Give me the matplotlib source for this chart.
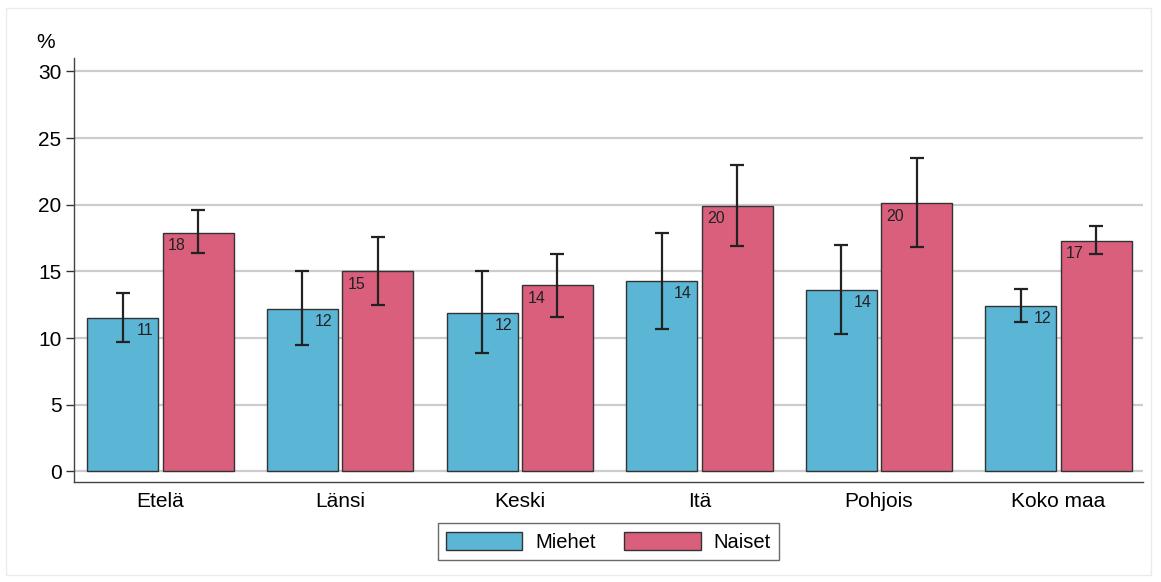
import numpy as np
import matplotlib
matplotlib.use("Agg")
import matplotlib.pyplot as plt
from matplotlib.patches import Rectangle

plt.rcParams['font.family'] = ['Liberation Sans', 'DejaVu Sans']

# ------------------------------------------------------------------ data
regions = ['Etelä', 'Länsi', 'Keski', 'Itä', 'Pohjois', 'Koko maa']
miehet = [11.5, 12.2, 11.9, 14.3, 13.6, 12.4]
miehet_lo = [9.7, 9.5, 8.9, 10.7, 10.3, 11.2]
miehet_hi = [13.4, 15.0, 15.0, 17.85, 16.95, 13.65]
naiset = [17.9, 15.0, 13.95, 19.9, 20.1, 17.3]
naiset_lo = [16.35, 12.5, 11.6, 16.9, 16.8, 16.3]
naiset_hi = [19.6, 17.6, 16.3, 22.95, 23.5, 18.4]
miehet_lbl = ['11', '12', '12', '14', '14', '12']
naiset_lbl = ['18', '15', '14', '20', '20', '17']

COL_M = '#5BB5D4'
COL_N = '#D95F7C'
EDGE = '#333333'

# ------------------------------------------------------------------ figure
fig = plt.figure(figsize=(11.61, 5.82), dpi=100)
# faint outer frame
fig.patches.append(Rectangle((6 / 1161, 1 - 575 / 582), 1145 / 1161, 567 / 582,
                             transform=fig.transFigure, fill=False,
                             edgecolor='#e6edf0', lw=1.0, zorder=0))
ax = fig.add_axes([0.0637, 0.1718, 0.9208, 0.7285])

x = np.arange(len(regions))
w = 0.395
off = 0.21

m = np.array(miehet); n = np.array(naiset)
m_err = [m - np.array(miehet_lo), np.array(miehet_hi) - m]
n_err = [n - np.array(naiset_lo), np.array(naiset_hi) - n]

ax.bar(x - off, m, w, color=COL_M, edgecolor=EDGE, lw=1.0, label='Miehet', zorder=2)
ax.bar(x + off, n, w, color=COL_N, edgecolor=EDGE, lw=1.0, label='Naiset', zorder=2)
ax.errorbar(x - off, m, yerr=m_err, fmt='none', ecolor='#222222', elinewidth=1.6,
            capsize=5, capthick=1.6, zorder=3)
ax.errorbar(x + off, n, yerr=n_err, fmt='none', ecolor='#222222', elinewidth=1.6,
            capsize=5, capthick=1.6, zorder=3)

for xi, v, t in zip(x, m, miehet_lbl):
    ax.text(xi - off + w/2 - 0.028, v - 0.4, t, ha='right', va='top', fontsize=11.5, color='#222222', zorder=4)
for xi, v, t in zip(x, n, naiset_lbl):
    ax.text(xi + off - w/2 + 0.03, v - 0.4, t, ha='left', va='top', fontsize=11.5, color='#222222', zorder=4)

ax.set_xlim(-0.482, 5.47)
ax.set_ylim(-0.8, 31.0)
ax.set_yticks([0, 5, 10, 15, 20, 25, 30])
ax.set_xticks(x)
ax.set_xticklabels(regions)
ax.tick_params(axis='x', length=0, labelsize=15, pad=7)
ax.tick_params(axis='y', length=6, width=1, color='#333333', labelsize=15, pad=3)
ax.yaxis.grid(True, color='#cccccc', lw=1.6, zorder=0)
ax.set_axisbelow(True)

for s in ['top', 'right']:
    ax.spines[s].set_visible(False)
for s in ['left', 'bottom']:
    ax.spines[s].set_color('#444444')
    ax.spines[s].set_linewidth(1.0)

fig.text(46 / 1161, 1 - 43 / 582, '%', ha='center', va='center', fontsize=15)

leg = ax.legend(loc='upper center', bbox_to_anchor=(0.5, -0.074), ncol=2, fontsize=14.5,
                frameon=True, fancybox=False, edgecolor='#444444', handlelength=3.8,
                handleheight=1.05, columnspacing=1.4, handletextpad=0.65, borderpad=0.4)
leg.get_frame().set_linewidth(1.0)

fig.savefig('out.png', dpi=100)
